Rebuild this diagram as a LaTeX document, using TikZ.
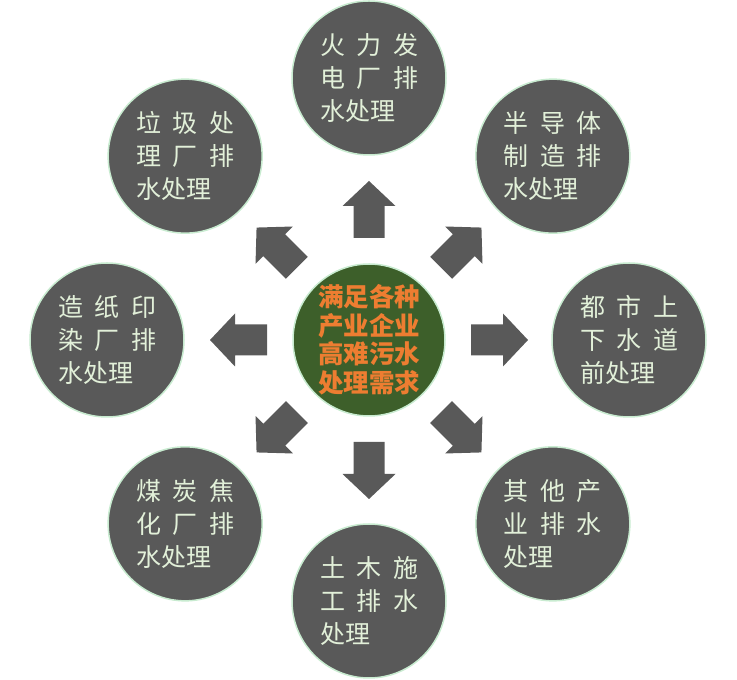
\documentclass[tikz,border=0pt]{standalone}
\usepackage{fontspec}
\usetikzlibrary{calc}
\newfontfamily\cjk{Noto Sans CJK SC}
\newcommand{\gp}{\hspace{0.46em}}
\definecolor{discgray}{HTML}{595959}
\definecolor{rimmint}{HTML}{C8EBD0}
\definecolor{palegreen}{HTML}{E2F0D9}
\definecolor{hubgreen}{HTML}{3D5F2A}
\definecolor{hubtext}{HTML}{ED7D31}

\begin{document}
\begin{tikzpicture}[
                x=1pt, y=1pt,
                disc/.style={circle, draw=rimmint, line width=1.5pt, fill=discgray, minimum size=154pt, inner sep=0pt, align=left, text=palegreen, font=\cjk\fontsize{25pt}{33pt}\selectfont},
                hubdisc/.style={circle, draw=rimmint, line width=1.5pt, fill=hubgreen, minimum size=152pt, inner sep=0pt, align=center, text=hubtext, font=\cjk\bfseries\fontsize{25.5pt}{28.5pt}\selectfont},
                blockarr/.style={fill=discgray}
            ]
            \useasboundingbox (0,0) rectangle (737,680);
            \node[hubdisc] (hub) at (369,340) {满足各种\\产业企业\\高难污水\\处理需求};
            \node[disc] (n) at ($(hub)+(90:262)$) {火\gp 力\gp 发\\电\gp 厂\gp 排\\水处理};
            \node[disc] (ne) at ($(hub)+(45:260)$) {半\gp 导\gp 体\\制\gp 造\gp 排\\水处理};
            \node[disc] (e) at ($(hub)+(0:260)$) {都\gp 市\gp 上\\下\gp 水\gp 道\\前处理};
            \node[disc] (se) at ($(hub)+(-45:260)$) {其\gp 他\gp 产\\业\gp 排\gp 水\\处理\hphantom{处}};
            \node[disc] (s) at ($(hub)+(-90:261)$) {土\gp 木\gp 施\\工\gp 排\gp 水\\处理\hphantom{处}};
            \node[disc] (sw) at ($(hub)+(-135:260)$) {煤\gp 炭\gp 焦\\化\gp 厂\gp 排\\水处理};
            \node[disc] (w) at ($(hub)+(180:262)$) {造\gp 纸\gp 印\\染\gp 厂\gp 排\\水处理};
            \node[disc] (nw) at ($(hub)+(135:260)$) {垃\gp 圾\gp 处\\理\gp 厂\gp 排\\水处理};
            % block arrows round the hub
            \foreach \a in {0,45,...,315}
                \fill[blockarr, shift={(hub.center)}, rotate=\a] (102,-15.5) -- (134,-15.5) -- (134,-26.5) -- (159,0) -- (134,26.5) -- (134,15.5) -- (102,15.5) -- cycle;
        \end{tikzpicture}
\end{document}
